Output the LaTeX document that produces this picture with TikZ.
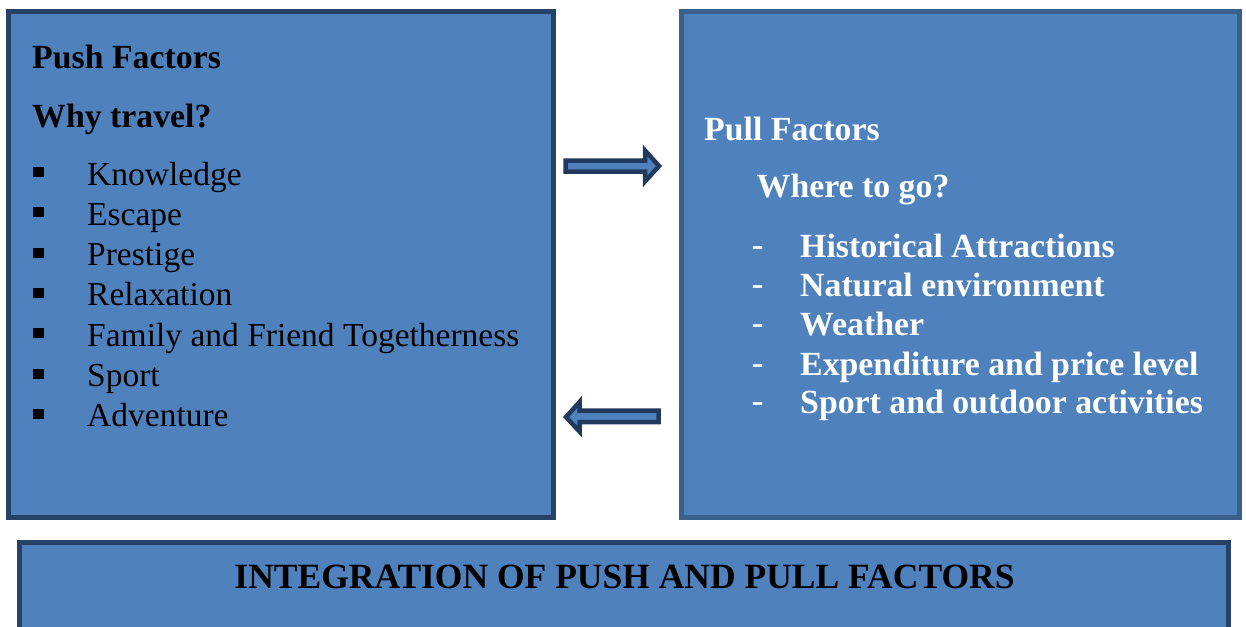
\documentclass[tikz,border=0pt]{standalone}
\usepackage{fontspec}
\setmainfont{Liberation Serif}
\definecolor{boxfill}{HTML}{4F81BD}
\definecolor{darkline}{HTML}{264266}
\definecolor{midline}{HTML}{3A5F8B}
\definecolor{arrowline}{HTML}{21395C}
\tikzset{
  panel/.style={draw=darkline, fill=boxfill, line width=5pt, rectangle, inner sep=0pt},
  itemtxt/.style={anchor=base west, inner sep=0pt, font=\fontsize{33.5}{40}\selectfont},
  headtxt/.style={anchor=base west, inner sep=0pt, font=\fontsize{33.8}{40}\selectfont\bfseries},
  bulletsq/.style={fill=black, draw=none, minimum width=10.5pt, minimum height=10pt, inner sep=0pt, rectangle},
  blockarrow/.style={draw=arrowline, fill=boxfill, line width=4.5pt, line join=miter},
}
\begin{document}
\begin{tikzpicture}[x=1pt,y=-1pt]
\clip (0,0) rectangle (1246,626);
\fill[white] (0,0) rectangle (1246,626);
% panels
\node[panel, minimum width=545pt, minimum height=506pt] (push) at (281,264.5) {};
\node[panel, draw=midline, minimum width=558pt, minimum height=506pt] (pull) at (960.5,264.5) {};
\node[panel, minimum width=1209pt, minimum height=120pt] (integ) at (624,602.5) {};
% push text
\node[headtxt] (pushh) at (32,68) {Push Factors};
\node[headtxt] (why) at (32,127) {Why travel?};
\foreach \t [count=\i] in {Knowledge,Escape,Prestige,Relaxation,Family and Friend Togetherness,Sport,Adventure}{
  \pgfmathsetmacro{\yy}{185+40.3*(\i-1)}
  \node[itemtxt] (pi\i) at (87,\yy) {\t};
  \node[bulletsq] (pb\i) at (38.7,\yy-13) {};
}
% pull text
\node[headtxt, text=white] (pullh) at (704,140) {Pull Factors};
\node[headtxt, text=white] (where) at (756.5,197) {Where to go?};
\foreach \t/\yy [count=\i] in {Historical Attractions/257,Natural environment/296.5,Weather/335.5,Expenditure and price level/375,Sport and outdoor activities/413}{
  \node[headtxt, text=white] (qi\i) at (800,\yy) {\t};
  \node[itemtxt, text=white, font=\fontsize{36}{40}\selectfont] (qd\i) at (751.5,\yy-1) {-};
}
% integration text
\node[anchor=base, inner sep=0pt, font=\fontsize{35.5}{40}\selectfont\bfseries] (integt) at (624.5,588) {INTEGRATION OF PUSH AND PULL FACTORS};
% block arrows
\draw[blockarrow] (565.5,160.5) -- (645,160.5) -- (645,150.5) -- (659,166) -- (645,181.5) -- (645,171.5) -- (565.5,171.5) -- cycle;
\draw[blockarrow] (658.5,410.5) -- (579.5,410.5) -- (579.5,402) -- (566,417) -- (579.5,431.5) -- (579.5,422) -- (658.5,422) -- cycle;
\end{tikzpicture}
\end{document}
